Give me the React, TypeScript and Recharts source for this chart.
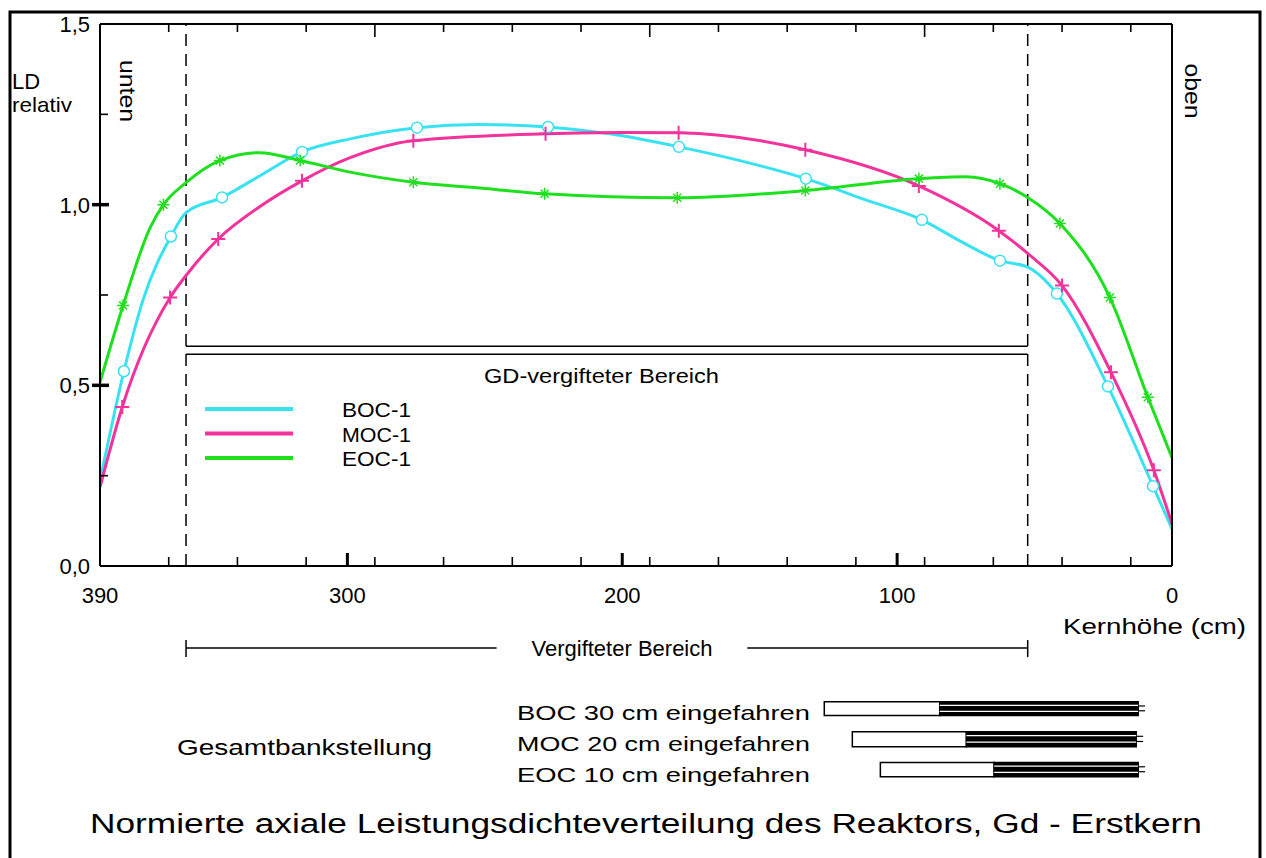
import { ComposedChart, Line, Scatter, XAxis, YAxis, ReferenceLine, ReferenceArea } from 'recharts';

const FONT = '"Liberation Sans", Arial, sans-serif';
const CYAN = '#38E2F0';
const PINK = '#F2339C';
const GREEN = '#1EE01E';

// Kernhöhe (cm) / LD relativ
const bocCurve = [
  { h: 390, v: 0.235 }, { h: 381.3, v: 0.539 }, { h: 374.4, v: 0.735 }, { h: 364.2, v: 0.912 },
  { h: 358.7, v: 0.978 }, { h: 345.6, v: 1.02 }, { h: 331.8, v: 1.08 }, { h: 316.5, v: 1.146 },
  { h: 299, v: 1.182 }, { h: 274.7, v: 1.213 }, { h: 252, v: 1.222 }, { h: 227, v: 1.215 },
  { h: 204.5, v: 1.196 }, { h: 179.4, v: 1.16 }, { h: 157.2, v: 1.122 }, { h: 133.2, v: 1.072 },
  { h: 111.7, v: 1.014 }, { h: 91, v: 0.958 }, { h: 77.2, v: 0.9 }, { h: 62.6, v: 0.845 },
  { h: 52.5, v: 0.827 }, { h: 41.9, v: 0.754 }, { h: 23.3, v: 0.497 }, { h: 6.9, v: 0.221 },
  { h: 0, v: 0.103 },
];
const mocCurve = [
  { h: 390, v: 0.218 }, { h: 381.9, v: 0.44 }, { h: 364.5, v: 0.743 }, { h: 358.7, v: 0.804 },
  { h: 347, v: 0.905 }, { h: 331.8, v: 0.995 }, { h: 316.5, v: 1.066 }, { h: 299, v: 1.13 },
  { h: 276, v: 1.177 }, { h: 227.9, v: 1.196 }, { h: 200, v: 1.2 }, { h: 179.5, v: 1.199 },
  { h: 133.4, v: 1.152 }, { h: 92.1, v: 1.052 }, { h: 63, v: 0.928 }, { h: 52.5, v: 0.865 },
  { h: 40, v: 0.776 }, { h: 22.2, v: 0.536 }, { h: 6.6, v: 0.265 }, { h: 0, v: 0.117 },
];
const eocCurve = [
  { h: 390, v: 0.508 }, { h: 381.6, v: 0.721 }, { h: 371.8, v: 0.936 }, { h: 366.9, v: 1.0 },
  { h: 358.7, v: 1.061 }, { h: 346.4, v: 1.122 }, { h: 331.8, v: 1.144 }, { h: 317.2, v: 1.122 },
  { h: 299, v: 1.09 }, { h: 276, v: 1.062 }, { h: 250, v: 1.045 }, { h: 228.2, v: 1.03 },
  { h: 180, v: 1.019 }, { h: 133.4, v: 1.039 }, { h: 92.1, v: 1.072 }, { h: 75, v: 1.077 },
  { h: 62.6, v: 1.058 }, { h: 52.5, v: 1.02 }, { h: 40.8, v: 0.948 }, { h: 22.6, v: 0.743 },
  { h: 8.8, v: 0.467 }, { h: 0, v: 0.3 },
];

// points carrying a symbol
const bocMarks = [
  { h: 381.3, v: 0.539 }, { h: 364.2, v: 0.912 }, { h: 345.6, v: 1.02 }, { h: 316.5, v: 1.146 },
  { h: 274.7, v: 1.213 }, { h: 227, v: 1.215 }, { h: 179.4, v: 1.16 }, { h: 133.2, v: 1.072 },
  { h: 91, v: 0.958 }, { h: 62.6, v: 0.845 }, { h: 41.9, v: 0.754 }, { h: 23.3, v: 0.497 },
  { h: 6.9, v: 0.221 },
];
const mocMarks = [
  { h: 381.9, v: 0.44 }, { h: 364.5, v: 0.743 }, { h: 347, v: 0.905 }, { h: 316.5, v: 1.066 },
  { h: 276, v: 1.177 }, { h: 227.9, v: 1.196 }, { h: 179.5, v: 1.199 }, { h: 133.4, v: 1.152 },
  { h: 92.1, v: 1.052 }, { h: 63, v: 0.928 }, { h: 40, v: 0.776 }, { h: 22.2, v: 0.536 },
  { h: 6.6, v: 0.265 },
];
const eocMarks = [
  { h: 381.6, v: 0.721 }, { h: 366.9, v: 1.0 }, { h: 346.4, v: 1.122 }, { h: 317.2, v: 1.122 },
  { h: 276, v: 1.062 }, { h: 228.2, v: 1.03 }, { h: 180, v: 1.019 }, { h: 133.4, v: 1.039 },
  { h: 92.1, v: 1.072 }, { h: 62.6, v: 1.058 }, { h: 40.8, v: 0.948 }, { h: 22.6, v: 0.743 },
  { h: 8.8, v: 0.467 },
];

const xLabels = [390, 300, 200, 100, 0];
const xMajor = [300, 200, 100];
const xMinor = [365, 340, 315, 290, 265, 240, 215, 190, 165, 140, 115, 90, 65, 40, 15];
const topLong = [290, 190, 90];
const yLabels = [0, 0.5, 1.0, 1.5];
const yMajor = [0.5, 1.0];
const yMinor = [0.25, 0.75, 1.25];

// vergifteter Bereich (cm)
const gdFrom = 358.7;
const gdTo = 52.5;

// Gesamtbankstellung: [start white, start black, end] in cm, row positions in LD units
const banks = [
  { name: 'BOC 30 cm eingefahren', white: 126.5, black: 84.5, end: 12.3, top: -0.376, bottom: -0.414 },
  { name: 'MOC 20 cm eingefahren', white: 116.3, black: 74.8, end: 13, top: -0.459, bottom: -0.5 },
  { name: 'EOC 10 cm eingefahren', white: 106.1, black: 64.7, end: 12.3, top: -0.544, bottom: -0.583 },
];

const legendItems = [
  { name: 'BOC-1', color: CYAN },
  { name: 'MOC-1', color: PINK },
  { name: 'EOC-1', color: GREEN },
];

const fmt = (v: number) => v.toFixed(1).replace('.', ',');

const XBottomTick = ({ x, y, payload }: any) => {
  const v = payload.value;
  return (
    <g>
      <text x={x} y={y + 37} textAnchor="middle" fontSize={22} fontFamily={FONT} fill="#000">{v}</text>
      {xMajor.includes(v) && <line x1={x} x2={x} y1={y} y2={y - 13} stroke="#000" strokeWidth={3} />}
    </g>
  );
};
const YLeftTick = ({ x, y, payload }: any) => {
  const v = payload.value;
  return (
    <g>
      <text x={x - 10} y={y + 8} textAnchor="end" fontSize={22} fontFamily={FONT} fill="#000">{fmt(v)}</text>
      {yMajor.includes(v) && <line x1={x - 8} x2={x + 9} y1={y} y2={y} stroke="#000" strokeWidth={3.5} />}
    </g>
  );
};

// minor tick marks, placed through the scales like any point
const bottomMinor = xMinor.map((h) => ({ h, v: 0 }));
const topMinor = xMinor.map((h) => ({ h, v: 1.5 }));
const leftMinor = yMinor.map((v) => ({ h: 390, v }));
const BottomMark = ({ cx, cy }: any) => <line x1={cx} x2={cx} y1={cy} y2={cy - 9} stroke="#000" strokeWidth={1.6} />;
const TopMark = ({ cx, cy, payload }: any) => (
  <line x1={cx} x2={cx} y1={cy} y2={cy + (topLong.includes(payload.h) ? 13 : 8)} stroke="#000" strokeWidth={1.6} />
);
const LeftMark = ({ cx, cy }: any) => <line x1={cx} x2={cx + 8} y1={cy} y2={cy} stroke="#000" strokeWidth={1.6} />;

const Circle = ({ cx, cy }: any) => <circle cx={cx} cy={cy} r={5.5} fill="#fff" stroke={CYAN} strokeWidth={1.5} />;
const Plus = ({ cx, cy }: any) => (
  <path d={`M${cx - 7},${cy}H${cx + 7}M${cx},${cy - 7}V${cy + 7}`} stroke={PINK} strokeWidth={2} />
);
const Star = ({ cx, cy }: any) => (
  <path d={`M${cx - 6},${cy}H${cx + 6}M${cx},${cy - 6}V${cy + 6}M${cx - 4},${cy - 4}L${cx + 4},${cy + 4}M${cx - 4},${cy + 4}L${cx + 4},${cy - 4}`} stroke={GREEN} strokeWidth={1.5} />
);

export default function App() {
  return (
    <div style={{ position: 'absolute', left: 0, top: 0, width: 1266, height: 858, background: '#fff', overflow: 'hidden' }}>
      <ComposedChart width={1266} height={858} margin={{ top: 23, right: 93, bottom: 291, left: 99 }}>
        <XAxis dataKey="h" type="number" domain={[0, 390]} reversed allowDataOverflow ticks={xLabels} interval={0}
          height={1} tickSize={0} tickMargin={0} tickLine={false} axisLine={{ stroke: '#000', strokeWidth: 2 }} tick={<XBottomTick />} />
        <XAxis xAxisId="top" orientation="top" dataKey="h" type="number" domain={[0, 390]} reversed allowDataOverflow
          height={1} tick={false} tickLine={false} axisLine={{ stroke: '#000', strokeWidth: 2 }} />
        <YAxis type="number" domain={[0, 1.5]} allowDataOverflow ticks={yLabels} interval={0}
          width={1} tickSize={0} tickMargin={0} tickLine={false} axisLine={{ stroke: '#000', strokeWidth: 2 }} tick={<YLeftTick />} />
        <YAxis yAxisId="r" orientation="right" type="number" domain={[0, 1.5]} allowDataOverflow
          width={1} tick={false} tickLine={false} axisLine={{ stroke: '#000', strokeWidth: 2 }} />

        <ReferenceLine x={gdFrom} stroke="#000" strokeWidth={1.5} strokeDasharray="12 8" />
        <ReferenceLine x={gdTo} stroke="#000" strokeWidth={1.5} strokeDasharray="12 8" />
        <ReferenceLine segment={[{ x: gdFrom, y: 0.608 }, { x: gdTo, y: 0.608 }]} stroke="#000" strokeWidth={1.5} />
        <ReferenceLine segment={[{ x: gdFrom, y: 0.586 }, { x: gdTo, y: 0.586 }]} stroke="#000" strokeWidth={1.5} />

        {/* dimension line under the axis */}
        <ReferenceLine ifOverflow="visible" segment={[{ x: gdFrom, y: -0.227 }, { x: 245.7, y: -0.227 }]} stroke="#000" strokeWidth={1.5} />
        <ReferenceLine ifOverflow="visible" segment={[{ x: 154.5, y: -0.227 }, { x: gdTo, y: -0.227 }]} stroke="#000" strokeWidth={1.5} />
        <ReferenceLine ifOverflow="visible" segment={[{ x: gdFrom, y: -0.205 }, { x: gdFrom, y: -0.252 }]} stroke="#000" strokeWidth={1.5} />
        <ReferenceLine ifOverflow="visible" segment={[{ x: gdTo, y: -0.205 }, { x: gdTo, y: -0.252 }]} stroke="#000" strokeWidth={1.5} />

        {/* bank positions */}
        {banks.map((b) => (
          <ReferenceArea key={b.name + 'w'} ifOverflow="visible" x1={b.white} x2={b.black} y1={b.bottom} y2={b.top}
            fill="#fff" fillOpacity={1} stroke="#000" strokeWidth={1.5} />
        ))}
        {banks.map((b) => (
          <ReferenceArea key={b.name + 'b'} ifOverflow="visible" x1={b.black} x2={b.end} y1={b.bottom} y2={b.top}
            fill="#000" fillOpacity={1} stroke="#000" strokeWidth={1.5} />
        ))}
        {banks.map((b) => (
          <ReferenceLine key={b.name + 'l1'} ifOverflow="visible"
            segment={[{ x: b.black, y: b.top - (b.top - b.bottom) * 0.25 }, { x: b.end, y: b.top - (b.top - b.bottom) * 0.25 }]}
            stroke="#fff" strokeWidth={1.2} />
        ))}
        {banks.map((b) => (
          <ReferenceLine key={b.name + 'l2'} ifOverflow="visible"
            segment={[{ x: b.black, y: b.top - (b.top - b.bottom) * 0.7 }, { x: b.end, y: b.top - (b.top - b.bottom) * 0.7 }]}
            stroke="#fff" strokeWidth={1.2} />
        ))}
        {banks.map((b) => (
          <ReferenceLine key={b.name + 'p1'} ifOverflow="visible"
            segment={[{ x: b.end, y: b.top - (b.top - b.bottom) * 0.3 }, { x: b.end - 2.5, y: b.top - (b.top - b.bottom) * 0.3 }]}
            stroke="#000" strokeWidth={1.2} />
        ))}
        {banks.map((b) => (
          <ReferenceLine key={b.name + 'p2'} ifOverflow="visible"
            segment={[{ x: b.end, y: b.top - (b.top - b.bottom) * 0.65 }, { x: b.end - 2.5, y: b.top - (b.top - b.bottom) * 0.65 }]}
            stroke="#000" strokeWidth={1.2} />
        ))}

        <Scatter data={bottomMinor} dataKey="v" shape={<BottomMark />} isAnimationActive={false} />
        <Scatter data={topMinor} dataKey="v" shape={<TopMark />} isAnimationActive={false} />
        <Scatter data={leftMinor} dataKey="v" shape={<LeftMark />} isAnimationActive={false} />

        <Line data={bocCurve} dataKey="v" type="monotone" stroke={CYAN} strokeWidth={3} dot={false} isAnimationActive={false} />
        <Line data={mocCurve} dataKey="v" type="monotone" stroke={PINK} strokeWidth={3} dot={false} isAnimationActive={false} />
        <Line data={eocCurve} dataKey="v" type="monotone" stroke={GREEN} strokeWidth={3} dot={false} isAnimationActive={false} />
        {/* symbols plotted against the top / right axes, which carry the same scales */}
        <Scatter xAxisId="top" yAxisId="r" data={bocMarks} dataKey="v" shape={<Circle />} isAnimationActive={false} />
        <Scatter xAxisId="top" yAxisId="r" data={mocMarks} dataKey="v" shape={<Plus />} isAnimationActive={false} />
        <Scatter xAxisId="top" yAxisId="r" data={eocMarks} dataKey="v" shape={<Star />} isAnimationActive={false} />
      </ComposedChart>

      <svg width={1266} height={858} style={{ position: 'absolute', left: 0, top: 0, pointerEvents: 'none' }} fontFamily={FONT} fill="#000">
        <rect x={10} y={12} width={1250} height={870} fill="none" stroke="#000" strokeWidth={3} />
        <text x={12} y={89} fontSize={22}>LD</text>
        <text x={12} y={112} fontSize={21} textLength={60} lengthAdjust="spacingAndGlyphs">relativ</text>
        <text transform="translate(120,91) rotate(90)" textAnchor="middle" fontSize={22} textLength={62} lengthAdjust="spacingAndGlyphs">unten</text>
        <text transform="translate(1185,91) rotate(90)" textAnchor="middle" fontSize={22} textLength={55} lengthAdjust="spacingAndGlyphs">oben</text>
        <text x={484} y={383} fontSize={21} textLength={235} lengthAdjust="spacingAndGlyphs">GD-vergifteter Bereich</text>
        {legendItems.map((it, i) => (
          <g key={it.name}>
            <line x1={205} x2={293} y1={409 + i * 24.5} y2={409 + i * 24.5} stroke={it.color} strokeWidth={4} />
            <text x={342} y={417 + i * 24.5} fontSize={21} textLength={69} lengthAdjust="spacingAndGlyphs">{it.name}</text>
          </g>
        ))}
        <text x={1063} y={634} fontSize={22} textLength={183} lengthAdjust="spacingAndGlyphs">Kernhöhe (cm)</text>
        <text x={622} y={656} textAnchor="middle" fontSize={22}>Vergifteter Bereich</text>
        <text x={177} y={755} fontSize={22} textLength={255} lengthAdjust="spacingAndGlyphs">Gesamtbankstellung</text>
        {banks.map((b, i) => (
          <text key={b.name} x={517} y={720 + i * 31} fontSize={21} textLength={293} lengthAdjust="spacingAndGlyphs">{b.name}</text>
        ))}
        <text x={90} y={833} fontSize={27} textLength={1112} lengthAdjust="spacingAndGlyphs">
          Normierte axiale Leistungsdichteverteilung des Reaktors, Gd - Erstkern
        </text>
      </svg>
    </div>
  );
}
